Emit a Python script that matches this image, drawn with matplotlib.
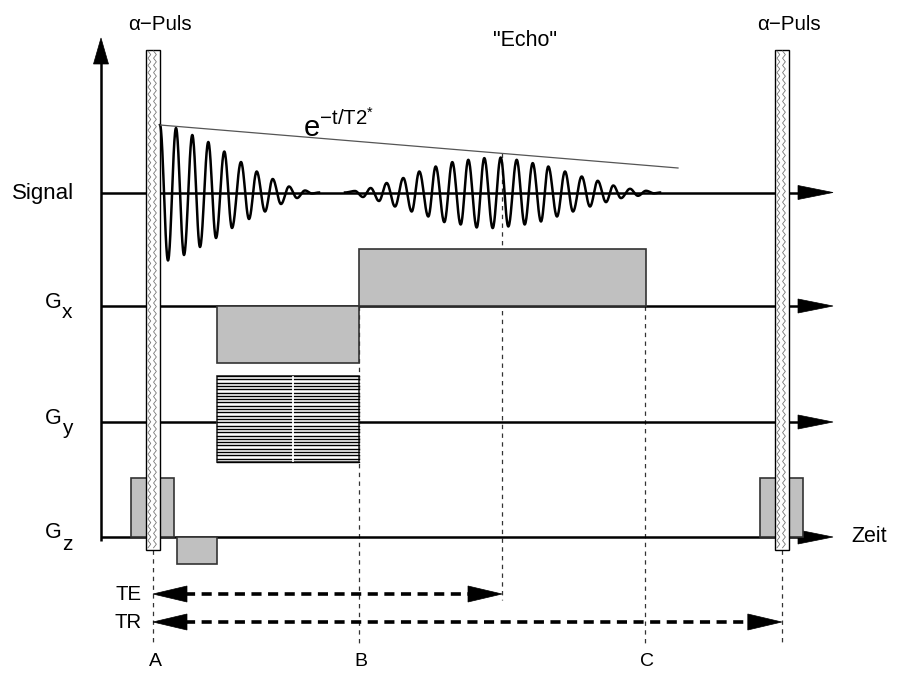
import numpy as np
import matplotlib
matplotlib.use('Agg')
import matplotlib.pyplot as plt
from matplotlib.patches import Rectangle, Polygon

plt.rcParams['font.family'] = ['Liberation Sans', 'DejaVu Sans']
plt.rcParams['mathtext.fontset'] = 'custom'
plt.rcParams['mathtext.rm'] = 'Liberation Sans'
plt.rcParams['mathtext.it'] = 'Liberation Sans:italic'
plt.rcParams['mathtext.bf'] = 'Liberation Sans:bold'

# ---------------- data (diagram units, y grows downward) ----------------
row_labels = ['Signal', 'G', 'G', 'G']
row_subscripts = ['', 'x', 'y', 'z']
row_y = [192.5, 306, 422, 537]

pulse_centers = [152.8, 781.8]
pulse_label = '\u03b1\u2212Puls'

# FID extrema (x, amplitude upward)
fid_x = [160, 168, 176, 184, 192.3, 200, 208.3, 216, 224.3, 232, 241, 249,
         256.7, 265, 272.7, 281, 289, 297, 305, 312, 319]
fid_amp = [67.5, -68, 64.5, -62.5, 57.5, -54.5, 50.5, -45.5, 41, -35.5, 30.5, -26.5,
           21, -19, 13.5, -11.5, 6, -5.5, 2, -1, 0]

# Echo extrema (x, amplitude upward)
echo_x = [345, 355, 363, 370.7, 379, 386.7, 395, 403.3, 411.7, 419.3, 428.3, 435.7,
          444.3, 452.3, 460.7, 468.3, 476.7, 484.3, 492.7, 500.7, 508.3, 516.7, 524.7,
          532.7, 541, 548.3, 557, 565, 573, 581.7, 590, 597.7, 606, 613.3, 621, 630,
          638, 646, 654, 660]
echo_amp = [0, 1.5, -4.5, 4.5, -8.5, 9.5, -14, 14.5, -19, 21, -24, 26,
            -29.6, 30.4, -32, 32.7, -35, 34.4, -35.6, 35, -34, 32.7, -32,
            29.4, -29, 26, -24, 21, -19, 16, -14, 11.7, -9.6, 7, -5.6, 3.7,
            -3.3, 1.7, -0.8, 0]

envelope_x = [160, 678]
envelope_y = [125, 168]

# gradient lobes: (start, end, amplitude upward)
gx_lobes = [(217, 359, -57), (359, 646, 57)]
gz_lobes = [(131, 174, 59), (177, 217, -27), (760, 803, 59)]
gy_block = (217, 359)
gy_top, gy_bottom, gy_steps = 46, -40, 27

time_marks = ['A', 'B', 'C']
time_x = [153, 359, 645]
echo_time = 502

te_span = (153, 502)
tr_span = (153, 781.8)

# ---------------- figure ----------------
fig = plt.figure(figsize=(9.14, 6.73), dpi=100)
ax = fig.add_axes([0, 0, 1, 1])
ax.set_xlim(0, 914)
ax.set_ylim(673, 0)
ax.axis('off')

axis_x = 101
arrow_end = 833

# vertical axis with arrow
ax.plot([axis_x, axis_x], [541, 60], color='black', lw=1.8, zorder=2, solid_capstyle='butt')
ax.add_patch(Polygon([[axis_x - 7.5, 64], [axis_x + 7.5, 64], [axis_x, 38]],
                     closed=True, facecolor='black', edgecolor='black', lw=0.5, zorder=2))

# baselines with arrows
for y in row_y:
    ax.plot([axis_x, arrow_end - 30], [y, y], color='black', lw=1.8, zorder=2, solid_capstyle='butt')
    ax.add_patch(Polygon([[arrow_end - 35, y - 7], [arrow_end - 35, y + 7], [arrow_end, y]],
                         closed=True, facecolor='black', edgecolor='black', lw=0.5, zorder=2))

# row labels
ax.text(74, row_y[0] + 6.5, row_labels[0], ha='right', va='baseline', fontsize=16)
for lab, sub, y in zip(row_labels[1:], row_subscripts[1:], row_y[1:]):
    ax.text(62, y + 1.5, lab, ha='right', va='baseline', fontsize=15.5)
    ax.text(62, y + 12.5, sub, ha='left', va='baseline', fontsize=15)

ax.text(851, 537, 'Zeit', ha='left', va='center', fontsize=15.5)

# dashed vertical guide lines
vdash = dict(color='#333333', lw=0.9, linestyle=(0, (3.5, 3.5)), zorder=1)
ax.plot([pulse_centers[0], pulse_centers[0]], [550, 645], **vdash)
ax.plot([pulse_centers[1], pulse_centers[1]], [550, 645], **vdash)
ax.plot([time_x[1], time_x[1]], [306, 645], **vdash)
ax.plot([time_x[2], time_x[2]], [306, 645], **vdash)
ax.plot([echo_time, echo_time], [153, 600], **vdash)

# gradient lobes
lobe_style = dict(facecolor='#c0c0c0', edgecolor='#333333', lw=1.2, zorder=3)
for (x0, x1, a) in gx_lobes:
    y0 = row_y[1]
    ax.add_patch(Rectangle((x0, min(y0, y0 - a)), x1 - x0, abs(a), **lobe_style))
for (x0, x1, a) in gz_lobes:
    y0 = row_y[3]
    ax.add_patch(Rectangle((x0, min(y0, y0 - a)), x1 - x0, abs(a), **lobe_style))

# phase encoding table
gx0, gx1 = gy_block
yb = row_y[2]
ax.add_patch(Rectangle((gx0, yb - gy_top), gx1 - gx0, gy_top - gy_bottom,
                       facecolor='white', edgecolor='#333333', lw=1.2, zorder=3))
levels = np.linspace(gy_top, gy_bottom, gy_steps)
for lv in levels:
    ax.plot([gx0, gx1], [yb - lv, yb - lv], color='black', lw=1.0, zorder=4)
ax.plot([292.7, 292.7], [yb - gy_top + 1, yb - gy_bottom - 1], color='white', lw=1.3, zorder=5)

# RF pulses (white bars with zig-zag fill)
pw = 14.5
ptop, pbot = 50, 550
for pc in pulse_centers:
    x0 = pc - pw / 2
    ax.add_patch(Rectangle((x0, ptop), pw, pbot - ptop, facecolor='white',
                           edgecolor='black', lw=1.0, zorder=6))
    yy = np.arange(ptop + 1, pbot - 1 + 0.01, 3.6)
    zz = np.where(np.arange(len(yy)) % 2 == 0, -1.4, 1.4)
    for off in (3.8, 9.4):
        ax.plot(x0 + off + zz, yy, color='#777777', lw=0.6, zorder=7)
    ax.text(pc + 7, 30, pulse_label, ha='center', va='baseline', fontsize=14.8)


def wave(xs, amps, n=24):
    px, py = [], []
    for i in range(len(xs) - 1):
        s = np.linspace(0, 1, n, endpoint=False)
        px.append(xs[i] + (xs[i + 1] - xs[i]) * s)
        py.append(amps[i] + (amps[i + 1] - amps[i]) * (1 - np.cos(np.pi * s)) / 2)
    px.append([xs[-1]])
    py.append([amps[-1]])
    return np.concatenate(px), np.concatenate(py)


sx, sy = wave(fid_x, fid_amp)
ax.plot(sx, row_y[0] - sy, color='black', lw=1.8, zorder=8)
ex, ey = wave(echo_x, echo_amp)
ax.plot(ex, row_y[0] - ey, color='black', lw=1.8, zorder=8)

# T2* envelope
ax.plot(envelope_x, envelope_y, color='#555555', lw=0.9, zorder=8)
ax.text(303, 137, r'$\mathrm{e}^{-\mathrm{t/T2}^{*}}$', ha='left', va='baseline', fontsize=21)
ax.text(525, 40, '"Echo"', ha='center', va='center', fontsize=15.5)

# TE / TR arrows
def dash_arrow(x0, x1, y):
    hl, hw = 34, 8
    ax.plot([x0 + hl - 2, x1 - hl + 2], [y, y], color='black', lw=2.6,
            linestyle=(0, (2.8, 1.8)), zorder=5)
    ax.add_patch(Polygon([[x0, y], [x0 + hl, y - hw], [x0 + hl, y + hw]], closed=True,
                         facecolor='black', edgecolor='black', lw=0.5, zorder=5))
    ax.add_patch(Polygon([[x1, y], [x1 - hl, y - hw], [x1 - hl, y + hw]], closed=True,
                         facecolor='black', edgecolor='black', lw=0.5, zorder=5))

dash_arrow(te_span[0], te_span[1], 594)
dash_arrow(tr_span[0], tr_span[1], 622)
ax.text(142, 594, 'TE', ha='right', va='center', fontsize=14.7)
ax.text(142, 622, 'TR', ha='right', va='center', fontsize=14.7)

for lab, x in zip(time_marks, time_x):
    ax.text(x + 2, 661, lab, ha='center', va='center', fontsize=14)

fig.savefig('out.png', dpi=100)
